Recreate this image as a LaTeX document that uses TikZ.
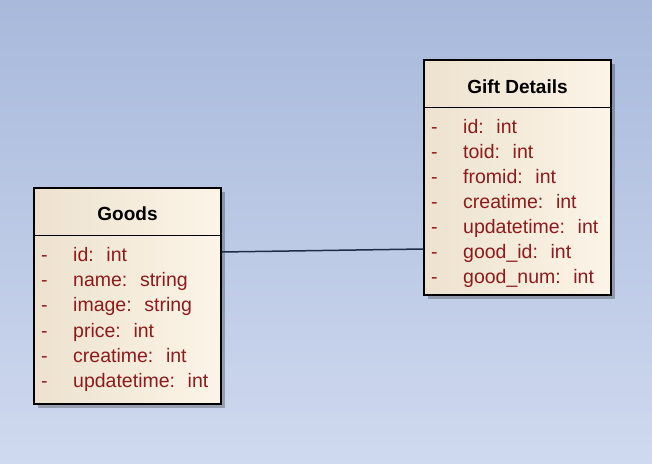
\documentclass[tikz,border=0pt]{standalone}
\usepackage{fontspec}
\setmainfont{Liberation Sans}
\usetikzlibrary{shadows}
\definecolor{bgtop}{HTML}{A8B9DB}
\definecolor{bgbottom}{HTML}{CFD9EF}
\definecolor{boxleft}{HTML}{EDE2CF}
\definecolor{boxright}{HTML}{FCF4E7}
\definecolor{attrred}{HTML}{8E1B1B}
\definecolor{linkblue}{HTML}{1E2C48}
\begin{document}
\begin{tikzpicture}[x=1pt,y=1pt,
    classbox/.style={draw=black,line width=1.2pt,inner sep=0pt,left color=boxleft,right color=boxright,
        drop shadow={shadow xshift=4pt,shadow yshift=-4pt,fill=black,opacity=.25}},
    title/.style={anchor=base,inner sep=0pt,font=\fontsize{19}{22}\selectfont\bfseries},
    attr/.style={anchor=base west,inner sep=0pt,text=attrred,font=\fontsize{19.5}{22}\selectfont}]

    % Background
    \shade[top color=bgtop,bottom color=bgbottom] (0,0) rectangle (652,463);
    \useasboundingbox (0,0) rectangle (652,463);

    % Classes
    \node[classbox,minimum width=187pt,minimum height=216pt] (goods) at (127.5,167) {};
    \node[classbox,minimum width=187pt,minimum height=235pt] (gift) at (517.5,285.5) {};

    % Header lines
    \draw[line width=1.2pt] ([yshift=169pt]goods.south west) -- ([yshift=169pt]goods.south east);
    \draw[line width=1.2pt] ([yshift=188pt]gift.south west) -- ([yshift=188pt]gift.south east);

    % Titles
    \node[title] (goods-title) at (127.5,242) {Goods};
    \node[title] (gift-title) at (517.5,369) {Gift Details};

    % Attributes of Goods
    \foreach \txt [count=\i from 0] in {id:~ int,name:~ string,image:~ string,price:~ int,creatime:~ int,updatetime:~ int} {
        \node[attr] (goods-d\i) at (41,{201-25*\i}) {-};
        \node[attr] (goods-\i) at (73,{201-25*\i}) {\txt};
    }

    % Attributes of Gift Details
    \foreach \txt [count=\i from 0] in {id:~ int,toid:~ int,fromid:~ int,creatime:~ int,updatetime:~ int,good\_id:~ int,good\_num:~ int} {
        \node[attr] (gift-d\i) at (431,{329-25*\i}) {-};
        \node[attr] (gift-\i) at (463,{329-25*\i}) {\txt};
    }

    % Association
    \draw[linkblue,line width=1.5pt] ([yshift=44pt]goods.east) -- ([yshift=-71.5pt]gift.west);

\end{tikzpicture}
\end{document}
